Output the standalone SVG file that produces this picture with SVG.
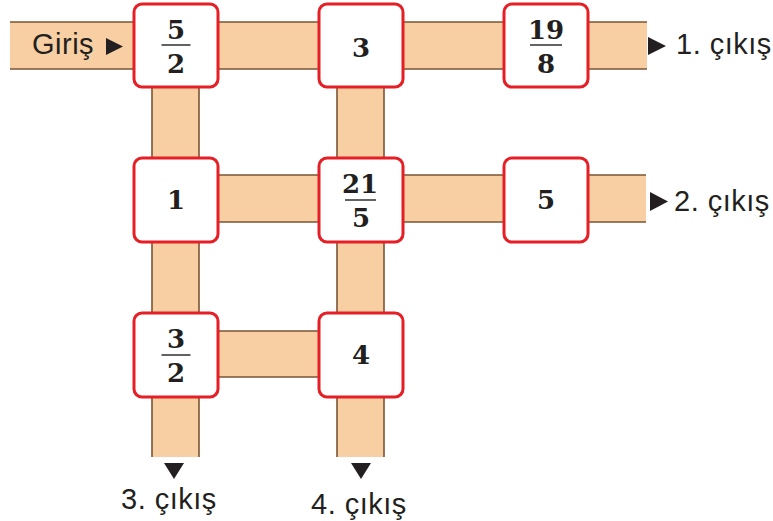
<svg xmlns="http://www.w3.org/2000/svg" width="773" height="521" viewBox="0 0 773 521">
  <style>
    .bar { fill: #f7cfa3; }
    .edge { stroke: #7a5535; stroke-width: 1.6; fill: none; }
    .box { fill: #ffffff; stroke: #e61f26; stroke-width: 3; }
    .num { font-family: "DejaVu Serif", "Liberation Serif", serif; font-weight: bold; font-size: 26px; fill: #231f20; text-anchor: middle; }
    .rule { stroke: #231f20; stroke-width: 1.4; }
    .lbl { font-family: "Liberation Sans", Arial, sans-serif; font-size: 29px; letter-spacing: 0.5px; fill: #231f20; }
    .tri { fill: #231f20; }
  </style>

  <!-- wooden channels between the boxes -->
  <g id="connectors">
    <!-- row 1: input to exit 1 -->
    <rect class="bar" x="10" y="22" width="637" height="47"/>
    <path class="edge" d="M10 22H647M10 69H647"/>
    <!-- row 2: exit 2 -->
    <rect class="bar" x="176" y="175" width="470" height="47"/>
    <path class="edge" d="M176 175H646M176 222H646"/>
    <!-- row 3 -->
    <rect class="bar" x="176" y="331" width="185" height="46"/>
    <path class="edge" d="M176 331H361M176 377H361"/>
    <!-- column 1: exit 3 -->
    <rect class="bar" x="152" y="45" width="47" height="412"/>
    <path class="edge" d="M152 45V457M199 45V457"/>
    <!-- column 2: exit 4 -->
    <rect class="bar" x="337" y="45" width="47" height="412"/>
    <path class="edge" d="M337 45V457M384 45V457"/>
  </g>

  <!-- direction markers -->
  <g id="markers">
    <polygon class="tri" points="106,38 106,55 123,46.5"/>
    <polygon class="tri" points="648,37 648,55 666,46"/>
    <polygon class="tri" points="650,192 650,211 668,201.5"/>
    <polygon class="tri" points="164,463 184,463 174,479"/>
    <polygon class="tri" points="351,463 371,463 361,479"/>
  </g>

  <!-- labels -->
  <g id="labels">
    <text class="lbl" x="32" y="54">Giriş</text>
    <text class="lbl" x="676" y="54">1. çıkış</text>
    <text class="lbl" x="674" y="211">2. çıkış</text>
    <text class="lbl" x="121" y="509">3. çıkış</text>
    <text class="lbl" x="311" y="514">4. çıkış</text>
  </g>

  <!-- number boxes -->
  <g id="n-5-2">
    <rect class="box" x="134" y="4" width="84" height="83" rx="8"/>
    <text class="num" x="176" y="39">5</text>
    <line class="rule" x1="161.5" y1="45" x2="190.5" y2="45"/>
    <text class="num" x="176" y="73">2</text>
  </g>
  <g id="n-3">
    <rect class="box" x="319" y="4" width="84" height="83" rx="8"/>
    <text class="num" x="361" y="57">3</text>
  </g>
  <g id="n-19-8">
    <rect class="box" x="504" y="4" width="84" height="83" rx="8"/>
    <text class="num" x="546" y="39">19</text>
    <line class="rule" x1="530" y1="45" x2="562" y2="45"/>
    <text class="num" x="546" y="73">8</text>
  </g>
  <g id="n-1">
    <rect class="box" x="134" y="158" width="84" height="84" rx="8"/>
    <text class="num" x="176" y="209">1</text>
  </g>
  <g id="n-21-5">
    <rect class="box" x="319" y="158" width="84" height="84" rx="8"/>
    <text class="num" x="360" y="193">21</text>
    <line class="rule" x1="345" y1="200" x2="376" y2="200"/>
    <text class="num" x="361" y="227">5</text>
  </g>
  <g id="n-5">
    <rect class="box" x="504" y="158" width="84" height="84" rx="8"/>
    <text class="num" x="546" y="209">5</text>
  </g>
  <g id="n-3-2">
    <rect class="box" x="134" y="313" width="84" height="84" rx="8"/>
    <text class="num" x="176" y="348">3</text>
    <line class="rule" x1="161.5" y1="355" x2="190.5" y2="355"/>
    <text class="num" x="176" y="382">2</text>
  </g>
  <g id="n-4">
    <rect class="box" x="319" y="313" width="84" height="84" rx="8"/>
    <text class="num" x="361" y="364">4</text>
  </g>
</svg>
